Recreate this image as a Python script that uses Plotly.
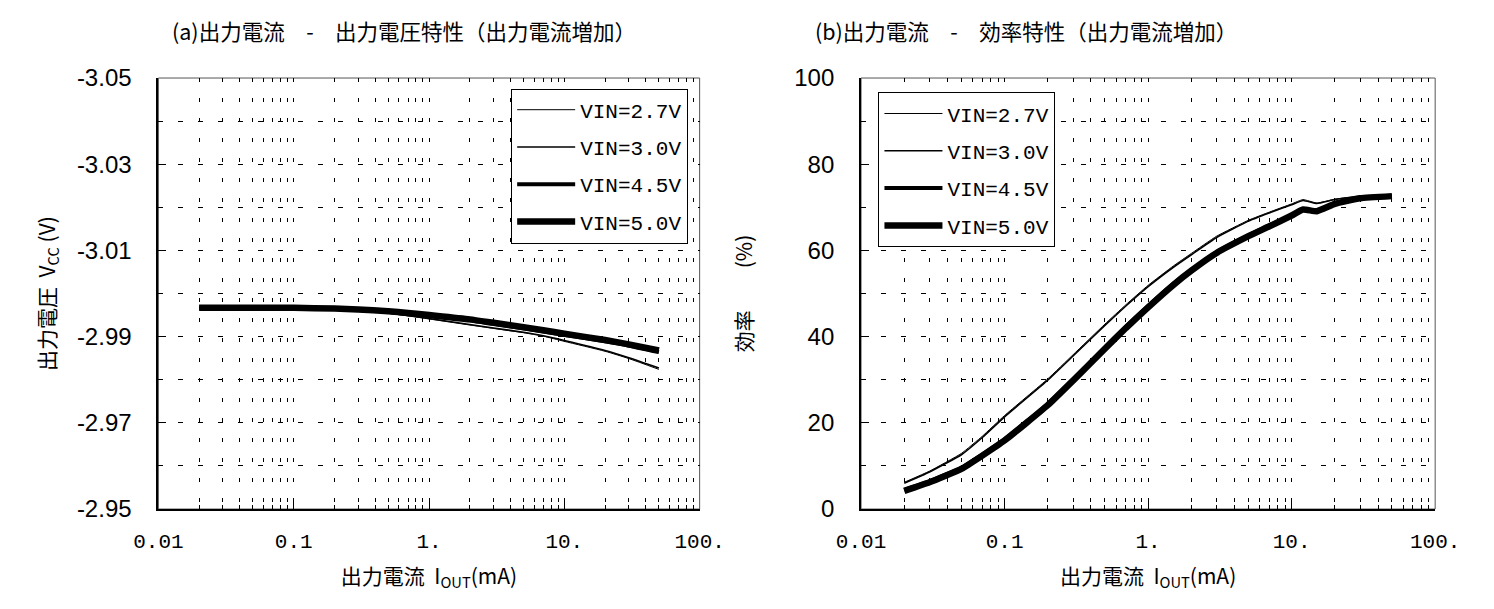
import plotly.graph_objects as go

# ---------------- data ----------------
vin_labels = ["VIN=2.7V", "VIN=3.0V", "VIN=4.5V", "VIN=5.0V"]

iout_a = [0.02, 0.03, 0.05, 0.07, 0.1, 0.2, 0.3, 0.5, 0.7, 1, 2, 3, 5, 7, 10, 20, 30, 50]
vout_27 = [-2.9967, -2.9967, -2.9967, -2.9967, -2.9966, -2.9964, -2.9961, -2.9954, -2.9948, -2.9941,
           -2.9927, -2.9919, -2.9909, -2.9901, -2.9889, -2.9866, -2.9849, -2.9824]
vout_30 = [-2.9967, -2.9967, -2.9967, -2.9967, -2.9966, -2.9964, -2.9962, -2.9955, -2.9949, -2.9942,
           -2.9928, -2.9920, -2.9910, -2.9902, -2.9891, -2.9868, -2.9851, -2.9827]
vout_45 = [-2.9967, -2.9967, -2.9967, -2.9967, -2.9967, -2.9965, -2.9963, -2.9958, -2.9954, -2.9949,
           -2.9938, -2.9930, -2.9919, -2.9912, -2.9904, -2.9889, -2.9879, -2.9864]
vout_50 = [-2.9967, -2.9967, -2.9967, -2.9967, -2.9967, -2.9965, -2.9963, -2.9959, -2.9955, -2.9950,
           -2.9940, -2.9932, -2.9922, -2.9915, -2.9907, -2.9892, -2.9882, -2.9868]

iout_b = [0.02, 0.03, 0.05, 0.07, 0.1, 0.2, 0.3, 0.5, 0.7, 1, 1.5, 2, 3, 5, 7, 10, 12, 15, 20, 30, 50]
eff_27 = [6.2, 8.8, 12.9, 16.9, 21.7, 30.2, 35.8, 42.9, 47.4, 51.9, 56.4, 59.3, 63.3, 67.0, 68.9, 70.8,
          71.8, 71.0, 71.9, 72.6, 72.8]
eff_30 = [6.0, 8.6, 12.6, 16.6, 21.4, 29.9, 35.5, 42.6, 47.1, 51.6, 56.1, 59.0, 63.0, 66.8, 68.7, 70.6,
          71.6, 70.9, 71.8, 72.5, 72.8]
eff_45 = [4.4, 6.4, 9.6, 12.7, 16.2, 24.4, 30.1, 37.5, 42.3, 47.1, 52.3, 55.5, 59.6, 63.5, 65.8, 68.2,
          69.6, 69.2, 70.9, 72.2, 72.6]
eff_50 = [4.2, 6.2, 9.3, 12.4, 15.9, 24.1, 29.8, 37.2, 42.0, 46.8, 52.0, 55.3, 59.4, 63.3, 65.6, 68.1,
          69.5, 69.1, 70.8, 72.1, 72.6]

x_tickvals = [0.01, 0.1, 1, 10, 100]
x_ticktext = ["0.01", "0.1", "1.", "10.", "100."]
va_tickvals = [-3.05, -3.03, -3.01, -2.99, -2.97, -2.95]
va_ticktext = ["-3.05", "-3.03", "-3.01", "-2.99", "-2.97", "-2.95"]
eff_tickvals = [0, 20, 40, 60, 80, 100]
eff_ticktext = ["0", "20", "40", "60", "80", "100"]

title_a = "(a)出力電流　-　出力電圧特性（出力電流増加）"
title_b = "(b)出力電流　-　効率特性（出力電流増加）"
xtitle = "出力電流  I<sub>OUT</sub>(mA)"
ytitle_a = "出力電圧  V<sub>CC</sub> (V)"
ytitle_b = "効率　　(%)"

# ---------------- layout helpers ----------------
W, H = 1494, 609
def px(x):
    return x / W
def py(y):
    return 1 - y / H

widths = [1, 1.6, 4, 6.5]
MONO = "Liberation Mono"
SANS = "Liberation Sans"
CJK = "Noto Sans CJK JP"

fig = go.Figure()

for name, ys, w in zip(vin_labels, [vout_27, vout_30, vout_45, vout_50], widths):
    fig.add_trace(go.Scatter(x=iout_a, y=ys, mode="lines", name=name,
                             line=dict(color="black", width=w, shape="spline", smoothing=0.6),
                             xaxis="x", yaxis="y", legend="legend", legendgroup="a" + name))
for name, ys, w in zip(vin_labels, [eff_27, eff_30, eff_45, eff_50], widths):
    fig.add_trace(go.Scatter(x=iout_b, y=ys, mode="lines", name=name,
                             line=dict(color="black", width=w, shape="spline", smoothing=0.4),
                             xaxis="x2", yaxis="y2", legend="legend2", legendgroup="b" + name))

grid_h = "5px,15px"
grid_v = "4px,16px"

def xaxis_cfg(domain, anchor):
    return dict(
        type="log", range=[-2, 2], domain=domain, anchor=anchor,
        tickmode="array", tickvals=x_tickvals, ticktext=x_ticktext,
        ticks="inside", ticklen=8, tickwidth=1, tickcolor="black",
        showgrid=False, zeroline=False,
        showline=True, linecolor="black", linewidth=2, mirror=False,
        tickfont=dict(family=MONO, size=21, color="black"),
        ticklabelstandoff=12,
        title=dict(text=xtitle, standoff=16, font=dict(family=CJK, size=21, color="black")),
        minor=dict(dtick="D1", ticks="inside", ticklen=4, tickcolor="black",
                   showgrid=True, gridcolor="black", gridwidth=1, griddash=grid_v),
    )

def yaxis_cfg(domain, anchor, rng, tv, tt, minor_dtick, tick0, ytitle, standoff):
    return dict(
        range=rng, domain=domain, anchor=anchor,
        tickmode="array", tickvals=tv, ticktext=tt,
        ticks="inside", ticklen=8, tickwidth=1, tickcolor="black",
        showgrid=True, gridcolor="black", gridwidth=1, griddash=grid_h,
        zeroline=False,
        showline=True, linecolor="black", linewidth=2, mirror=False,
        tickfont=dict(family=SANS, size=24, color="black"),
        ticklabelstandoff=20,
        title=dict(text=ytitle, standoff=standoff, font=dict(family=CJK, size=21, color="black")),
        minor=dict(dtick=minor_dtick, tick0=tick0, ticks="", showgrid=True,
                   gridcolor="black", gridwidth=1, griddash=grid_h),
    )

yd = [py(518), py(67)]
legend_common = dict(xanchor="left", yanchor="top",
                     bgcolor="white", bordercolor="black", borderwidth=1,
                     font=dict(family=MONO, size=21, color="black"),
                     tracegroupgap=7, itemwidth=58)
fig.update_layout(
    width=W, height=H,
    margin=dict(l=0, r=0, t=0, b=0),
    paper_bgcolor="white", plot_bgcolor="white",
    font=dict(family=CJK, size=21, color="black"),
    showlegend=True,
    xaxis=xaxis_cfg([px(138), px(698)], "y"),
    yaxis=yaxis_cfg(yd, "x", [-2.95, -3.05], va_tickvals, va_ticktext, 0.01, -3.05, ytitle_a, 16),
    xaxis2=xaxis_cfg([px(865), px(1459)], "y2"),
    yaxis2=yaxis_cfg(yd, "x2", [0, 100], eff_tickvals, eff_ticktext, 10, 0, ytitle_b, 36),
    legend=dict(x=px(503), y=py(78), **legend_common),
    legend2=dict(x=px(883), y=py(82), **legend_common),
)

# thin frame on top/right
for xr, yr in (("x domain", "y domain"), ("x2 domain", "y2 domain")):
    fig.add_shape(type="rect", xref=xr, yref=yr, x0=0, x1=1, y0=0, y1=1,
                  line=dict(color="#555", width=1), layer="below")

ann = [
    dict(text=title_a, x=px(150), y=py(17), xanchor="left", yanchor="middle"),
    dict(text=title_b, x=px(815), y=py(17), xanchor="left", yanchor="middle"),
]
for a in ann:
    a.update(xref="paper", yref="paper", showarrow=False,
             font=dict(family=CJK, size=21.5, color="black"))
fig.update_layout(annotations=ann)

fig.write_html("out.html")
